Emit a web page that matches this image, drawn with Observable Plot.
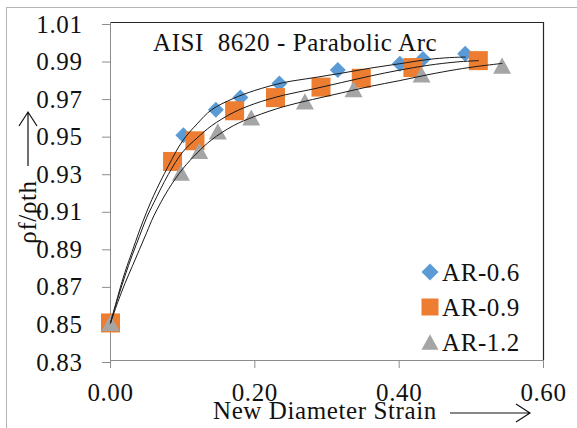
<!DOCTYPE html>
<html><head><meta charset="utf-8">
<script src="https://cdn.jsdelivr.net/npm/d3@7"></script>
<script src="https://cdn.jsdelivr.net/npm/@observablehq/plot@0.6"></script>
<style>
body{margin:0;background:#fff;}
#wrap{position:relative;width:577px;height:428px;overflow:hidden;background:#fff;}
#border{position:absolute;left:6px;top:7px;width:700px;height:500px;border-left:1px solid #b4b4b4;border-top:1px solid #b4b4b4;}
#chart{position:absolute;left:0;top:0;}
</style></head><body>
<div id="wrap"><div id="border"></div><div id="chart"></div></div>
<script>
// ---- data ----
const titleText = "AISI  8620 - Parabolic Arc";
const xLabel = "New Diameter Strain";
const yLabel = "\u03C1f/\u03C1th";
const xTicks = [0, 0.2, 0.4, 0.6];
const yTicks = [0.83, 0.85, 0.87, 0.89, 0.91, 0.93, 0.95, 0.97, 0.99, 1.01];
const seriesNames = ["AR-0.6", "AR-0.9", "AR-1.2"];
const seriesColors = ["#5B9BD5", "#ED7D31", "#A5A5A5"];

const strain06 = [0, 0.101, 0.146, 0.180, 0.234, 0.315, 0.401, 0.433, 0.4915];
const density06 = [0.850, 0.950, 0.9635, 0.970, 0.9775, 0.9847, 0.988, 0.9906, 0.9933];
const strain09 = [0, 0.086, 0.117, 0.172, 0.2286, 0.2917, 0.3475, 0.419, 0.5097];
const density09 = [0.850, 0.936, 0.947, 0.963, 0.970, 0.9756, 0.9803, 0.986, 0.9897];
const strain12 = [0, 0.0976, 0.123, 0.1487, 0.195, 0.2694, 0.3368, 0.431, 0.5426];
const density12 = [0.850, 0.930, 0.9416, 0.952, 0.9594, 0.968, 0.9745, 0.9823, 0.987];

// trendlines
const fitStrain06 = [0, 0.01, 0.02, 0.03, 0.04, 0.05, 0.06, 0.08, 0.10, 0.12, 0.14, 0.17, 0.20, 0.24, 0.28, 0.32, 0.36, 0.40, 0.44, 0.47, 0.4915];
const fitDensity06 = [0.850, 0.864, 0.877, 0.888, 0.899, 0.909, 0.918, 0.9335, 0.947, 0.956, 0.9635, 0.9695, 0.9738, 0.978, 0.9805, 0.983, 0.9857, 0.988, 0.9903, 0.9913, 0.9916];
const fitStrain09 = [0, 0.01, 0.02, 0.03, 0.04, 0.05, 0.06, 0.08, 0.10, 0.12, 0.14, 0.17, 0.20, 0.24, 0.28, 0.32, 0.36, 0.40, 0.44, 0.48, 0.5097];
const fitDensity09 = [0.850, 0.863, 0.875, 0.886, 0.896, 0.906, 0.914, 0.929, 0.941, 0.9485, 0.955, 0.962, 0.9668, 0.9713, 0.9745, 0.978, 0.9815, 0.9846, 0.9872, 0.989, 0.9897];
const fitStrain12 = [0, 0.01, 0.02, 0.03, 0.04, 0.05, 0.06, 0.08, 0.10, 0.12, 0.14, 0.17, 0.20, 0.24, 0.28, 0.32, 0.36, 0.40, 0.44, 0.48, 0.51, 0.5426];
const fitDensity12 = [0.850, 0.861, 0.871, 0.880, 0.889, 0.898, 0.907, 0.921, 0.932, 0.9405, 0.9475, 0.955, 0.960, 0.9652, 0.969, 0.9725, 0.976, 0.979, 0.9822, 0.985, 0.9867, 0.9882];

// ---- build tables ----
const toRows = (xs, ys, s) => xs.map((x, i) => ({x, y: ys[i], s}));
const pts06 = toRows(strain06, density06, seriesNames[0]);
const pts09 = toRows(strain09, density09, seriesNames[1]);
const pts12 = toRows(strain12, density12, seriesNames[2]);
const fits = [
  ...toRows(fitStrain06, fitDensity06, seriesNames[0]),
  ...toRows(fitStrain09, fitDensity09, seriesNames[1]),
  ...toRows(fitStrain12, fitDensity12, seriesNames[2])
];

// ---- custom Excel-like symbols ----
const diamond = {draw(c, size){const h=Math.sqrt(size/Math.PI);c.moveTo(0,-h);c.lineTo(h,0);c.lineTo(0,h);c.lineTo(-h,0);c.closePath();}};
const square = {draw(c, size){const h=Math.sqrt(size/Math.PI);c.moveTo(-h,-h);c.lineTo(h,-h);c.lineTo(h,h);c.lineTo(-h,h);c.closePath();}};
const triangle = {draw(c, size){const h=Math.sqrt(size/Math.PI);c.moveTo(0,-h*0.9);c.lineTo(h,h*0.9);c.lineTo(-h,h*0.9);c.closePath();}};
const symbols = [diamond, square, triangle];

const xDomain = [xTicks[0], xTicks[xTicks.length-1]];
const yDomain = [yTicks[0], yTicks[yTicks.length-1]];
const font = "Liberation Serif, Times New Roman, serif";
const fs = 25, ls = "0.6px";

const chart = Plot.plot({
  width: 577, height: 428,
  marginLeft: 110, marginRight: 34, marginTop: 22, marginBottom: 68,
  style: {fontFamily: font, fontSize: fs + "px", letterSpacing: ls, background: "transparent", color: "#111"},
  x: {domain: xDomain},
  y: {domain: yDomain},
  marks: [
    Plot.ruleY([yDomain[1]], {stroke: "#262626", strokeWidth: 1.2}),
    Plot.ruleX([xDomain[1]], {stroke: "#262626", strokeWidth: 1.2}),
    Plot.ruleX([xDomain[0]], {stroke: "#8c8c8c"}),
    Plot.ruleY([yDomain[0]], {stroke: "#8c8c8c"}),
    Plot.axisX({ticks: xTicks, tickFormat: d3.format(".2f"), tickSize: 8, tickPadding: 15, stroke: "#8c8c8c", fill: "#111", label: null}),
    Plot.axisY({ticks: yTicks, tickFormat: d3.format(".2f"), tickSize: 8, tickPadding: 20, dy: 2, stroke: "#8c8c8c", fill: "#111", label: null}),
    Plot.dot(pts06, {x: "x", y: "y", symbol: diamond, r: 8, fill: seriesColors[0], stroke: "none"}),
    Plot.dot(pts09, {x: "x", y: "y", symbol: square, r: 9.5, fill: seriesColors[1], stroke: "none"}),
    Plot.dot(pts12, {x: "x", y: "y", symbol: triangle, r: 9, fill: seriesColors[2], stroke: "none"}),
    Plot.line(fits, {x: "x", y: "y", z: "s", stroke: "#1a1a1a", strokeWidth: 1, curve: "catmull-rom"})
  ]
});
document.getElementById("chart").appendChild(chart);

// ---- titles, axis labels, arrows, legend ----
const svg = d3.select(chart);
const g = svg.append("g").attr("font-family", font).attr("font-size", fs).attr("fill", "#111")
  .attr("text-anchor", "start").style("letter-spacing", ls);
g.append("text").attr("x", 153).attr("y", 51).style("white-space", "pre").text(titleText);
g.append("text").attr("x", 213).attr("y", 419).text(xLabel);
g.append("text").attr("transform", "translate(36,212) rotate(-90)").attr("text-anchor", "middle").text(yLabel);
// arrows
const arrows = svg.append("g").attr("stroke", "#111").attr("stroke-width", 1.2).attr("fill", "none");
arrows.append("path").attr("d", "M450,413H530M516,404L530,413L516,422");
arrows.append("path").attr("d", "M28,166V112M19,126L28,112L37,126");
// legend
const legendY = [272, 307, 342];
const lg = svg.append("g").attr("text-anchor", "start");
seriesNames.forEach((name, i) => {
  lg.append("path")
    .attr("transform", `translate(430,${legendY[i]})`)
    .attr("d", d3.symbol().type(symbols[i]).size(Math.PI * 8.5 * 8.5)())
    .attr("fill", seriesColors[i]);
  lg.append("text").attr("x", 442).attr("y", legendY[i] + 8.5)
    .attr("font-family", font).attr("font-size", fs).attr("fill", "#111")
    .style("letter-spacing", ls).text(name);
});
</script>
</body></html>
